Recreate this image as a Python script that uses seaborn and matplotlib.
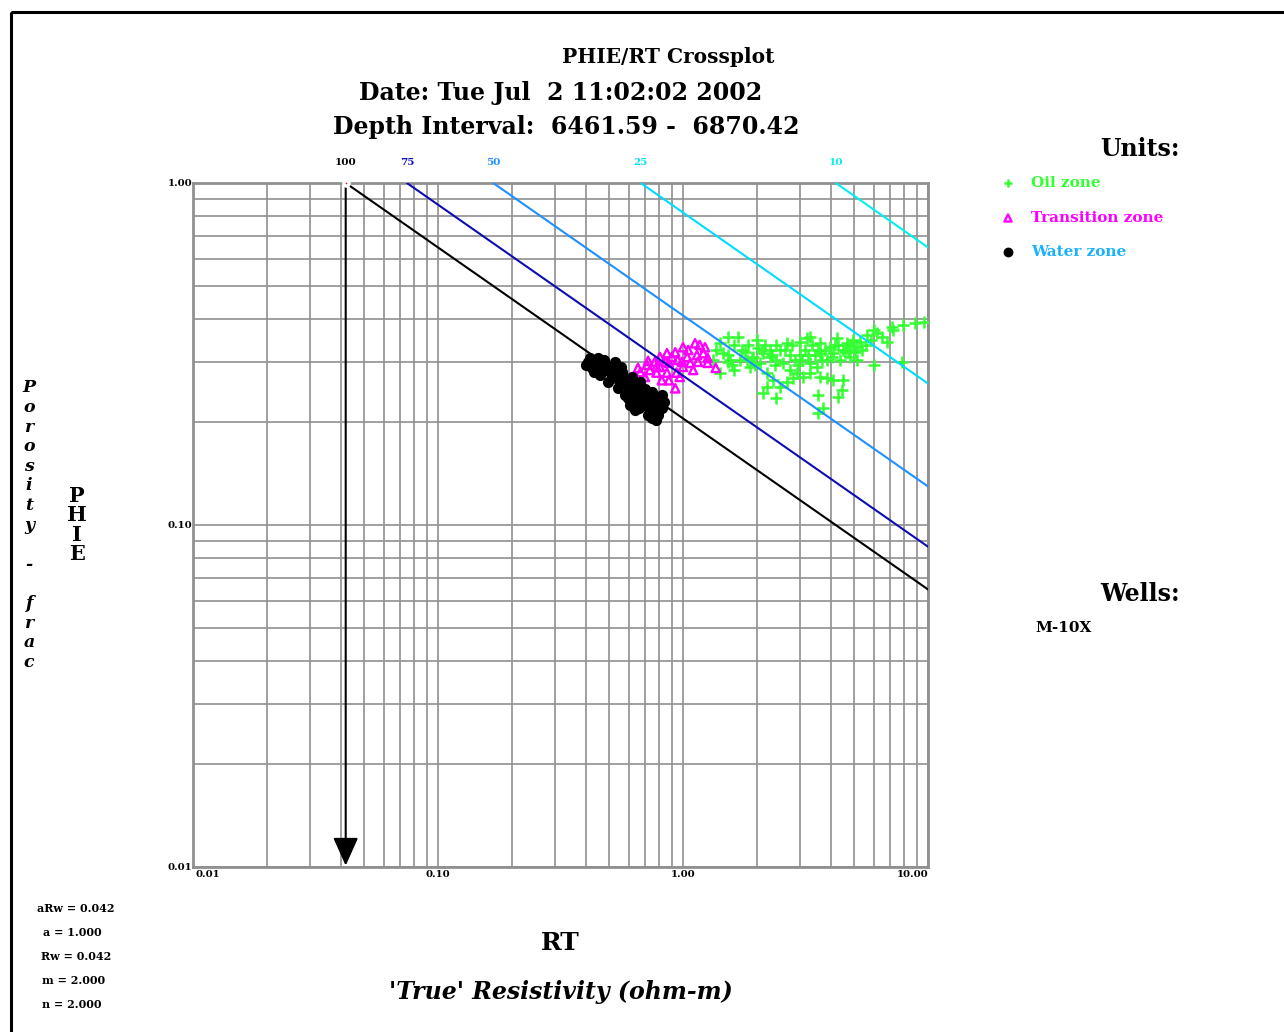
import numpy as np
import pandas as pd
import matplotlib
matplotlib.use("Agg")
import matplotlib.pyplot as plt
import seaborn as sns
from matplotlib.patches import Rectangle

# Archie / Pickett parameters
a_rw = 0.042
a_const = 1.000
rw = 0.042
m_exp = 2.000
n_exp = 2.000

# Water-saturation reference lines
sw_levels = [1.00, 0.75, 0.50, 0.25, 0.10]
sw_labels = ["100", "75", "50", "25", "10"]
sw_colors = ["#000000", "#0c0cb4", "#1e90ff", "#00dcff", "#00f0f0"]

# Axis tick labels
x_tick_vals = [0.01, 0.1, 1.0, 10.0]
x_tick_text = ["0.01", "0.10", "1.00", "10.00"]
y_tick_vals = [1.0, 0.1, 0.01]
y_tick_text = ["1.00", "0.10", "0.01"]

# Water zone samples
water_rt = [0.41, 0.425, 0.445, 0.467, 0.485, 0.504, 0.514, 0.529, 0.543, 0.553,
            0.564, 0.58, 0.592, 0.608, 0.597, 0.62, 0.636, 0.642, 0.655, 0.667,
            0.68, 0.692, 0.699, 0.72, 0.733, 0.747, 0.768, 0.79, 0.805, 0.82,
            0.836, 0.775, 0.72, 0.636, 0.608, 0.58, 0.543, 0.494, 0.458, 0.433,
            0.476, 0.529, 0.667, 0.82, 0.40, 0.417, 0.45,
            0.56, 0.62, 0.70, 0.76, 0.66, 0.75, 0.52, 0.60]
water_phie = [0.300, 0.288, 0.298, 0.284, 0.294, 0.280, 0.269, 0.288, 0.275, 0.262,
              0.280, 0.269, 0.257, 0.248, 0.235, 0.240, 0.257, 0.229, 0.245, 0.235,
              0.251, 0.224, 0.240, 0.232, 0.217, 0.245, 0.224, 0.210, 0.235, 0.220,
              0.229, 0.203, 0.210, 0.217, 0.224, 0.240, 0.251, 0.262, 0.275, 0.280,
              0.304, 0.300, 0.262, 0.240, 0.294, 0.308, 0.308,
              0.290, 0.270, 0.250, 0.235, 0.220, 0.205, 0.285, 0.260]

# Transition zone samples
trans_rt = [0.655, 0.712, 0.768, 0.805, 0.86, 0.93, 1.0, 1.12, 1.23, 1.14,
            1.07, 1.10, 1.0, 0.94, 0.875, 0.93, 0.82, 0.78, 0.733, 0.699,
            0.805, 0.875, 0.95, 1.04, 1.21, 1.26, 1.36, 0.97, 0.86, 0.78,
            1.26, 1.17, 0.67, 0.72, 0.90, 1.05, 0.99, 1.15, 0.85]
trans_phie = [0.288, 0.294, 0.300, 0.310, 0.318, 0.320, 0.331, 0.340, 0.331, 0.314,
              0.298, 0.284, 0.290, 0.279, 0.265, 0.251, 0.265, 0.279, 0.284, 0.271,
              0.290, 0.298, 0.304, 0.310, 0.318, 0.298, 0.288, 0.271, 0.279, 0.290,
              0.308, 0.336, 0.280, 0.302, 0.310, 0.325, 0.300, 0.300, 0.300]

# Oil zone samples
oil_rt = [1.53, 1.67, 1.42, 1.46, 1.56, 1.62, 2.02, 2.40, 2.65, 3.00,
          3.20, 3.30, 3.62, 4.25, 4.67, 5.13, 5.28, 5.64, 6.02, 6.19,
          6.49, 6.80, 7.14, 7.20, 7.91, 8.85, 9.65, 6.02, 7.84, 5.13,
          4.80, 4.50, 4.10, 3.87, 3.53, 3.30, 3.09, 2.92, 2.73, 2.56,
          2.40, 2.26, 2.12, 1.93, 1.83, 1.88, 2.06, 2.20, 2.33, 2.49,
          2.20, 2.12, 2.40, 2.65, 2.81, 3.30, 3.62, 3.98, 4.37, 3.62,
          3.87, 4.10, 4.50, 4.45, 4.29, 3.56, 3.73, 3.56, 1.71, 1.59,
          1.42, 1.33, 1.52, 2.73, 3.00, 3.14, 2.86, 3.46, 3.80, 4.17,
          4.58, 5.03, 2.49, 2.26, 2.16, 1.79, 1.97, 3.36, 4.80,
          1.74, 1.84, 1.92, 2.10, 2.31, 2.38, 2.61, 2.78, 2.94, 3.06,
          3.25, 3.56, 3.69, 4.06, 4.29, 4.71, 4.93, 5.39, 5.59, 5.85,
          1.53, 1.36, 1.62, 2.00]
oil_phie = [0.354, 0.354, 0.340, 0.318, 0.304, 0.284, 0.329, 0.336, 0.340, 0.343,
            0.352, 0.354, 0.340, 0.352, 0.340, 0.331, 0.343, 0.360, 0.372, 0.364,
            0.354, 0.343, 0.379, 0.372, 0.384, 0.390, 0.393, 0.294, 0.300, 0.304,
            0.310, 0.325, 0.318, 0.304, 0.290, 0.279, 0.271, 0.279, 0.284, 0.298,
            0.304, 0.310, 0.318, 0.310, 0.304, 0.290, 0.298, 0.279, 0.265, 0.253,
            0.253, 0.243, 0.235, 0.262, 0.269, 0.298, 0.318, 0.331, 0.304, 0.271,
            0.269, 0.265, 0.265, 0.248, 0.236, 0.240, 0.220, 0.212, 0.304, 0.294,
            0.279, 0.304, 0.314, 0.314, 0.314, 0.325, 0.304, 0.314, 0.325, 0.336,
            0.320, 0.320, 0.325, 0.325, 0.336, 0.320, 0.294, 0.336, 0.336,
            0.325, 0.336, 0.308, 0.325, 0.314, 0.294, 0.325, 0.336, 0.294, 0.304,
            0.314, 0.325, 0.304, 0.310, 0.336, 0.325, 0.348, 0.325, 0.336, 0.348,
            0.300, 0.325, 0.336, 0.348]

zone_names = ["Oil zone", "Transition zone", "Water zone"]
zone_label_colors = ["#33ff33", "#ff00ff", "#1ab2ff"]
well_names = ["M-10X"]

OIL_C = "#33ff33"
TRANS_C = "#ff00ff"
GRID_C = "#909090"

sns.set_theme(style="white")
plt.rcParams["font.family"] = ["DejaVu Serif"]
plt.rcParams["font.weight"] = "bold"
plt.rcParams["text.color"] = "black"

W, H = 1284, 1032
fig = plt.figure(figsize=(W / 100, H / 100), dpi=100)
fig.patch.set_facecolor("white")

# Page overlay in pixel units for frame, titles and legend
ov = fig.add_axes([0, 0, 1, 1], zorder=0)
ov.set_xlim(0, W)
ov.set_ylim(H, 0)
ov.axis("off")
ov.patch.set_alpha(0)

ax = fig.add_axes([193 / W, (H - 867) / H, 735 / W, 684 / H], zorder=1)
ax.set_xscale("log")
ax.set_yscale("log")
ax.set_xlim(0.01, 10)
ax.set_ylim(0.01, 1)
ax.set_facecolor("white")
ax.grid(True, which="both", color=GRID_C, lw=1.2, zorder=0)
ax.set_axisbelow(True)
ax.tick_params(which="both", length=0, labelbottom=False, labelleft=False)
for sp in ax.spines.values():
    sp.set_color(GRID_C)
    sp.set_linewidth(2.0)

# Oil and transition samples
oil_df = pd.DataFrame({"RT": oil_rt, "PHIE": oil_phie})
trans_df = pd.DataFrame({"RT": trans_rt, "PHIE": trans_phie})
water_df = pd.DataFrame({"RT": water_rt, "PHIE": water_phie})

sns.scatterplot(data=oil_df, x="RT", y="PHIE", ax=ax, marker="+", color=OIL_C,
                s=75, linewidth=1.8, zorder=3, legend=False)
sns.scatterplot(data=trans_df, x="RT", y="PHIE", ax=ax, marker="^", color=TRANS_C,
                s=36, linewidth=1.7, edgecolor=TRANS_C, zorder=4, legend=False)
ax.collections[-1].set_facecolor("none")

# Sw lines: RT = a*Rw / (phi^m * Sw^n)
phi_ends = np.array([1.0, 0.01])
line_rows = []
for sw, lab in zip(sw_levels, sw_labels):
    for phi in phi_ends:
        rt = a_const * rw / (phi ** m_exp * sw ** n_exp)
        line_rows.append({"RT": rt, "PHIE": phi, "Sw": lab})
lines_df = pd.DataFrame(line_rows)
sns.lineplot(data=lines_df, x="RT", y="PHIE", hue="Sw", hue_order=sw_labels,
             palette=dict(zip(sw_labels, sw_colors)), sort=False, estimator=None,
             lw=1.5, ax=ax, legend=False, zorder=5)
ax.set_xlabel("")
ax.set_ylabel("")

sns.scatterplot(data=water_df, x="RT", y="PHIE", ax=ax, marker="o", color="black",
                s=65, linewidth=0, zorder=6, legend=False)
ax.set_xlabel("")
ax.set_ylabel("")

# Sw labels above the top axis
for sw, lab, col in zip(sw_levels, sw_labels, sw_colors):
    rt0 = a_const * rw / (1.0 * sw ** n_exp)
    ax.annotate(lab, xy=(rt0, 1.0), xytext=(0, 14.5), textcoords="offset points",
                ha="center", va="center", fontsize=7.5, fontweight="bold", color=col,
                annotation_clip=False)

# aRw arrow
ax.annotate("", xy=(a_rw, 0.01), xytext=(a_rw, 1.0),
            arrowprops=dict(arrowstyle="-|>,head_length=1.45,head_width=0.65",
                            color="black", lw=1.5, shrinkA=0, shrinkB=-1),
            annotation_clip=False, zorder=7)
ax.scatter([a_rw], [1.0], s=14, color="#d01010", edgecolor="white", linewidth=2.5,
           zorder=8, clip_on=False)

# Tick labels
for v, t in zip(y_tick_vals, y_tick_text):
    ax.annotate(t, xy=(0.01, v), xytext=(-0.5, 0), textcoords="offset points",
                ha="right", va="center", fontsize=7.3, fontweight="bold",
                color="black", annotation_clip=False)
x_has = ["left", "center", "center", "right"]
x_off = [1.5, 0, 0, 0]
for v, t, ha, dx in zip(x_tick_vals, x_tick_text, x_has, x_off):
    ax.annotate(t, xy=(v, 0.01), xytext=(dx, -5.3), textcoords="offset points",
                ha=ha, va="center", fontsize=7.3, fontweight="bold",
                color="black", annotation_clip=False)

# Page frame
ov.add_patch(Rectangle((10.5, 11.5), W + 20, H + 20, fill=False, ec="black", lw=2.2))

# Titles
ov.text(668, 57, "PHIE/RT Crossplot", ha="center", va="center", fontsize=14.5,
        fontweight="bold")
ov.text(561, 93, "Date: Tue Jul  2 11:02:02 2002", ha="center", va="center",
        fontsize=17, fontweight="bold")
ov.text(566, 127, "Depth Interval:  6461.59 -  6870.42", ha="center", va="center",
        fontsize=17, fontweight="bold")

# Axis titles
ov.text(560, 943, "RT", ha="center", va="center", fontsize=18, fontweight="bold")
ov.text(561, 992, "'True' Resistivity (ohm-m)", ha="center", va="center",
        fontsize=17, fontweight="bold", style="italic")
ov.text(29, 525, "\n".join(list("Porosity - frac")), ha="center", va="center",
        fontsize=12.5, fontweight="bold", style="italic", linespacing=1.2)
ov.text(77, 525, "\n".join(list("PHIE")), ha="center", va="center",
        fontsize=15, fontweight="bold", linespacing=0.95)

# Legend
ov.text(1140, 149, "Units:", ha="center", va="center", fontsize=17, fontweight="bold")
leg_y = [183, 218, 252]
ov.scatter([1008], [leg_y[0]], marker="+", s=40, color=OIL_C, linewidths=1.8)
ov.scatter([1008], [leg_y[1]], marker="^", s=26, facecolor="none",
           edgecolor=TRANS_C, linewidths=1.7)
ov.scatter([1008], [leg_y[2]], marker="o", s=50, color="black", linewidths=0)
for y, name, col in zip(leg_y, zone_names, zone_label_colors):
    ov.text(1031, y, name, ha="left", va="center", fontsize=11, fontweight="bold",
            color=col)

ov.text(1140, 594, "Wells:", ha="center", va="center", fontsize=17, fontweight="bold")
ov.text(1035, 628, well_names[0], ha="left", va="center", fontsize=11, fontweight="bold")

# Parameter block
params = [("aRw = %.3f" % a_rw, 76, 909), ("a = %.3f" % a_const, 72, 933),
          ("Rw = %.3f" % rw, 76, 957), ("m = %.3f" % m_exp, 74, 981),
          ("n = %.3f" % n_exp, 72, 1005)]
for txt, x, y in params:
    ov.text(x, y, txt, ha="center", va="center", fontsize=8, fontweight="bold")

fig.savefig("out.png", dpi=100, facecolor="white")
